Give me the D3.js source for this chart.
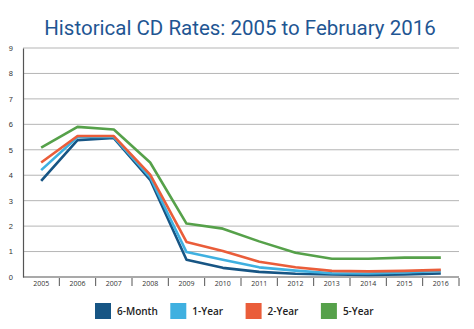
<!DOCTYPE html>
<html>
<head>
<meta charset="utf-8">
<script src="https://cdn.jsdelivr.net/npm/d3@7"></script>
<style>
  body { margin: 0; background: #fff; }
  svg { display: block; font-family: "Open Sans", "DejaVu Sans", sans-serif; }
</style>
</head>
<body>
<svg id="chart"></svg>
<script>
const years = ['2005', '2006', '2007', '2008', '2009', '2010', '2011', '2012', '2013', '2014', '2015', '2016'];
const yTicks = [0, 1, 2, 3, 4, 5, 6, 7, 8, 9];

const sixMonth = [3.78, 5.38, 5.46, 3.82, 0.68, 0.36, 0.2, 0.13, 0.1, 0.08, 0.1, 0.14];
const oneYear = [4.2, 5.5, 5.5, 3.92, 0.98, 0.68, 0.38, 0.25, 0.15, 0.14, 0.18, 0.24];
const twoYear = [4.5, 5.54, 5.54, 4.02, 1.38, 1.02, 0.6, 0.38, 0.24, 0.22, 0.24, 0.28];
const fiveYear = [5.08, 5.9, 5.8, 4.5, 2.1, 1.9, 1.4, 0.95, 0.72, 0.72, 0.76, 0.76];

const seriesNames = ['6-Month', '1-Year', '2-Year', '5-Year'];
const colors = ['#175584', '#3fb0e0', '#ea5d3a', '#56a14a'];
const seriesValues = [sixMonth, oneYear, twoYear, fiveYear];

const width = 474, height = 329;
const margin = { top: 48, right: 15, bottom: 52, left: 23 };

const svg = d3.select('#chart').attr('width', width).attr('height', height);

svg.append('text')
    .attr('x', 240)
    .attr('y', 35)
    .attr('text-anchor', 'middle')
    .attr('fill', '#1f5693')
    .attr('font-family', 'Roboto, sans-serif')
    .attr('font-size', 20.5)
    .text('Historical CD Rates: 2005 to February 2016');

const x = d3.scaleBand()
    .domain(years)
    .range([margin.left, width - margin.right]);

const y = d3.scaleLinear()
    .domain([0, 9])
    .range([height - margin.bottom, margin.top]);

// horizontal grid
svg.append('g')
    .selectAll('line')
    .data(yTicks.filter(d => d > 0))
    .enter()
    .append('line')
    .attr('x1', margin.left)
    .attr('x2', width - margin.right)
    .attr('y1', d => y(d))
    .attr('y2', d => y(d))
    .attr('stroke', '#b5b5b5')
    .attr('stroke-width', 1);

// y axis
const yAxis = svg.append('g')
    .attr('transform', `translate(${margin.left},0)`)
    .call(d3.axisLeft(y).tickValues(yTicks).tickSize(0).tickPadding(10));
yAxis.select('.domain').attr('stroke', '#555').attr('stroke-width', 1.2);
yAxis.selectAll('text').attr('font-size', 7.5).attr('fill', '#333');

// x axis: ticks sit between the year bands
const xAxis = svg.append('g')
    .attr('transform', `translate(0,${y(0)})`);
xAxis.append('line')
    .attr('x1', margin.left)
    .attr('x2', width - margin.right)
    .attr('stroke', '#555')
    .attr('stroke-width', 1.2);
xAxis.selectAll('.sep')
    .data(years)
    .enter()
    .append('line')
    .attr('class', 'sep')
    .attr('x1', d => x(d) + x.bandwidth())
    .attr('x2', d => x(d) + x.bandwidth())
    .attr('y1', 1)
    .attr('y2', 9)
    .attr('stroke', '#555')
    .attr('stroke-width', 1);
xAxis.selectAll('.lbl')
    .data(years)
    .enter()
    .append('text')
    .attr('class', 'lbl')
    .attr('x', d => x(d) + x.bandwidth() / 2)
    .attr('y', 9)
    .attr('text-anchor', 'middle')
    .attr('font-size', 7)
    .attr('fill', '#333')
    .text(d => d);

const line = d3.line()
    .x((d, i) => x(years[i]) + x.bandwidth() / 2)
    .y(d => y(d));

svg.append('g')
    .selectAll('path')
    .data(seriesValues)
    .enter()
    .append('path')
    .attr('d', d => line(d))
    .attr('fill', 'none')
    .attr('stroke', (d, i) => colors[i])
    .attr('stroke-width', 2.6)
    .attr('stroke-linejoin', 'round');

// legend
const legend = svg.append('g')
    .selectAll('g')
    .data(seriesNames)
    .enter()
    .append('g')
    .attr('transform', (d, i) => `translate(${95 + i * 75.3},303)`);
legend.append('rect')
    .attr('width', 16)
    .attr('height', 16)
    .attr('fill', (d, i) => colors[i]);
legend.append('text')
    .attr('x', 22)
    .attr('y', 12)
    .attr('font-size', 10)
    .attr('font-weight', 600)
    .attr('fill', '#222')
    .text(d => d);
</script>
</body>
</html>
